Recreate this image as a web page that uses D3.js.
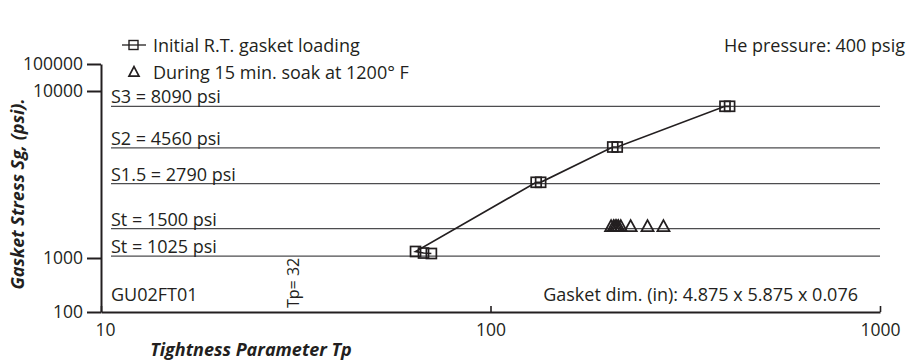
<!DOCTYPE html>
<html>
<head>
<meta charset="utf-8">
<script src="https://cdn.jsdelivr.net/npm/d3@7"></script>
<style>
  html, body { margin: 0; padding: 0; background: #fff; }
  svg { display: block; }
  text { font-family: "Open Sans", "Noto Sans", sans-serif; fill: #231f20; }
</style>
</head>
<body>
<svg id="chart" width="918" height="361"></svg>
<script>
// Tightness parameter (Tp) vs gasket stress (psi) for initial loading and soak
const loadingTp     = [70.5, 67.3, 64.2, 131, 134.5, 206, 211.5, 400, 411];
const loadingStress = [1064, 1071, 1094, 2840, 2840, 4620, 4620, 8100, 8100];

const soakTp     = [204, 207, 209, 211, 213, 216, 229, 253, 278];
const soakStress = [1525, 1525, 1525, 1525, 1525, 1525, 1525, 1525, 1525];

const refLabels = ["S3 = 8090 psi", "S2 = 4560 psi", "S1.5 = 2790 psi", "St = 1500 psi", "St = 1025 psi"];
const refStress = [8090, 4560, 2790, 1500, 1025];

const xTicks = [10, 100, 1000];
const yTicks = [100, 1000, 10000, 100000];

const legendLabels = ["Initial R.T. gasket loading", "During 15 min. soak at 1200\u00b0 F"];

const ink = "#231f20";
const fs = 18;
const svg = d3.select("#chart");

// log x axis; y axis uses a piecewise log scale with an expanded 1000–10000 decade
const x = d3.scaleLog().domain([10, 1000]).range([101, 880]);
const y = d3.scaleLog().domain(yTicks).range([312, 258, 91, 64]);

// reference stress lines with labels sitting on them
const ref = svg.append("g");
refStress.forEach((s, i) => {
  ref.append("line")
    .attr("x1", 111).attr("x2", 880)
    .attr("y1", y(s)).attr("y2", y(s))
    .attr("stroke", "#4d4d4f").attr("stroke-width", 1.3);
  ref.append("text")
    .attr("x", 111).attr("y", y(s) - 3)
    .attr("font-size", fs)
    .text(refLabels[i]);
});

// axes
const yAxis = d3.axisLeft(y).tickValues(yTicks).tickFormat(d3.format("d"))
  .tickSizeInner(14).tickSizeOuter(0).tickPadding(4);
const gy = svg.append("g").attr("transform", "translate(101,0)").call(yAxis);
gy.select(".domain").attr("stroke", ink).attr("stroke-width", 2);
gy.selectAll(".tick line").attr("stroke", ink).attr("stroke-width", 2);
gy.selectAll(".tick text").attr("font-size", 17.5).attr("fill", ink)
  .attr("font-family", "'Open Sans', sans-serif");

const xAxis = d3.axisBottom(x).tickValues(xTicks).tickFormat(d3.format("d"))
  .tickSizeInner(-6).tickSizeOuter(0).tickPadding(12);
const gx = svg.append("g").attr("transform", "translate(0,312)").call(xAxis);
gx.select(".domain").attr("stroke", ink).attr("stroke-width", 2);
gx.selectAll(".tick line").attr("stroke", ink).attr("stroke-width", 1.6);
gx.selectAll(".tick text").attr("font-size", 17.5).attr("fill", ink)
  .attr("font-family", "'Open Sans', sans-serif")
  .attr("dx", d => d === 10 ? 4 : 0);

// axis titles
svg.append("text")
  .attr("transform", "translate(24,194) rotate(-90)")
  .attr("text-anchor", "middle")
  .attr("font-size", fs).attr("font-weight", "bold").attr("font-style", "italic")
  .text("Gasket Stress Sg, (psi).");
svg.append("text")
  .attr("x", 251).attr("y", 356)
  .attr("text-anchor", "middle")
  .attr("font-size", fs).attr("font-weight", "bold").attr("font-style", "italic")
  .text("Tightness Parameter Tp");

// loading curve
const loadPts = loadingTp.map((t, i) => [t, loadingStress[i]]);
svg.append("path")
  .datum(loadPts)
  .attr("fill", "none").attr("stroke", ink).attr("stroke-width", 1.7)
  .attr("d", d3.line().x(d => x(d[0])).y(d => y(d[1])));

const sq = 10;
svg.append("g").selectAll("rect").data(loadPts).join("rect")
  .attr("x", d => x(d[0]) - sq / 2).attr("y", d => y(d[1]) - sq / 2)
  .attr("width", sq).attr("height", sq)
  .attr("fill", "none").attr("stroke", ink).attr("stroke-width", 1.7);

// soak points (open triangles)
const tri = (cx, cy, w, h) =>
  `M${cx},${cy - h * 2 / 3}L${cx + w / 2},${cy + h / 3}L${cx - w / 2},${cy + h / 3}Z`;
const soakPts = soakTp.map((t, i) => [t, soakStress[i]]);
svg.append("g").selectAll("path").data(soakPts).join("path")
  .attr("d", d => tri(x(d[0]), y(d[1]), 12, 11))
  .attr("fill", "none").attr("stroke", ink).attr("stroke-width", 1.8)
  .attr("stroke-linejoin", "miter");

// legend
const lg = svg.append("g");
lg.append("line").attr("x1", 122).attr("x2", 146).attr("y1", 45).attr("y2", 45)
  .attr("stroke", ink).attr("stroke-width", 1.3);
lg.append("rect").attr("x", 129).attr("y", 40.5).attr("width", 9).attr("height", 9)
  .attr("fill", "none").attr("stroke", ink).attr("stroke-width", 1.4);
lg.append("path").attr("d", tri(134, 73, 10, 9.5))
  .attr("fill", "none").attr("stroke", ink).attr("stroke-width", 1.7);
legendLabels.forEach((t, i) => {
  lg.append("text").attr("x", 153).attr("y", 52 + i * 27)
    .attr("font-size", fs).text(t);
});

// annotations
svg.append("text").attr("x", 905).attr("y", 52).attr("text-anchor", "end")
  .attr("font-size", fs).text("He pressure: 400 psig");
svg.append("text").attr("x", 111).attr("y", 301)
  .attr("font-size", fs).text("GU02FT01");
svg.append("text").attr("x", 858).attr("y", 301).attr("text-anchor", "end")
  .attr("font-size", fs).text("Gasket dim. (in): 4.875 x 5.875 x 0.076");
svg.append("text")
  .attr("transform", `translate(${x(32) + 1},308) rotate(-90)`)
  .attr("font-size", 16).text("Tp= 32");
</script>
</body>
</html>
